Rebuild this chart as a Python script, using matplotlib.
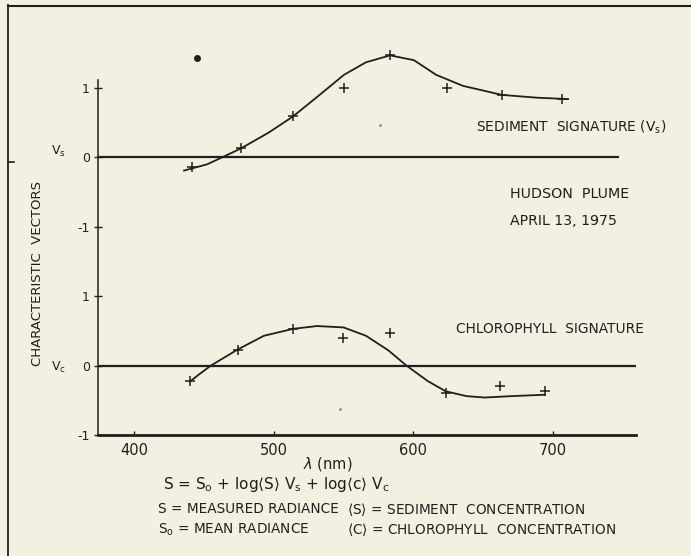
import matplotlib
matplotlib.use("Agg")
import matplotlib.pyplot as plt
import numpy as np

# wavelengths (nm) and values
sed_nm = [441.5, 476.6, 513.8, 550.3, 583.3, 624.0, 663.4, 706.4]
sed_val = [-0.14, 0.13, 0.59, 1.00, 1.47, 1.00, 0.90, 0.84]

sed_curve_nm = [435.8, 452.3, 463.0, 476.6, 496.6, 513.8, 531.0, 550.3,
                566.0, 583.3, 600.4, 616.2, 635.5, 663.4, 688.5, 710.7]
sed_curve_val = [-0.19, -0.10, 0.00, 0.13, 0.36, 0.59, 0.87, 1.19,
                 1.37, 1.47, 1.40, 1.19, 1.03, 0.90, 0.86, 0.84]

chl_nm = [440.0, 474.4, 513.8, 549.6, 583.3, 623.3, 662.0, 694.2]
chl_val = [-0.22, 0.23, 0.53, 0.40, 0.47, -0.40, -0.30, -0.36]

chl_curve_nm = [440, 447, 455, 474, 493, 514, 531, 550, 566,
                582, 595, 610, 623, 638, 651, 670, 694]
chl_curve_val = [-0.23, -0.12, 0.00, 0.23, 0.43, 0.53, 0.57, 0.55, 0.43,
                 0.22, 0.00, -0.22, -0.37, -0.44, -0.46, -0.44, -0.42]

# stray marks on the scan
dot_nm, dot_val = [445], [1.43]
speck_nm, speck_val = [576, 547.5], [3.46, -0.62]

OFFSET = 3  # upper panel sits 3 units above the lower one
ytick_pos = [-1, 0, 1, 2, 3, 4]
ytick_lab = ['-1', '0', '1', '-1', '0', '1']
xtick_pos = [400, 500, 600, 700]

paper = '#f3efe1'
ink = '#1f1f1f'
W, H = 691, 556


def px(x, y):
    return x / W, 1 - y / H


fig = plt.figure(figsize=(W / 100, H / 100), dpi=100, facecolor=paper)
ax = fig.add_axes([98 / W, 1 - 435 / H, 538 / W, 355 / H])
ax.set_facecolor(paper)

ax.plot(sed_curve_nm, np.array(sed_curve_val) + OFFSET, color=ink, lw=1.3,
        clip_on=False)
ax.plot(sed_nm, np.array(sed_val) + OFFSET, '+', color=ink, ms=7, mew=1.1,
        clip_on=False)
ax.plot(chl_curve_nm, chl_curve_val, color=ink, lw=1.3)
ax.plot(chl_nm, chl_val, '+', color=ink, ms=7, mew=1.1)

ax.plot(dot_nm, np.array(dot_val) + OFFSET, 'o', color=ink, ms=4, clip_on=False)
ax.plot(speck_nm, speck_val, 'o', color='#8a8a8a', ms=2, mew=0)

ax.set_xlim(374.2, 759.3)
ax.set_ylim(-1, 4.115)
ax.hlines(OFFSET, 374.2, 747, color=ink, lw=1.6)
ax.hlines(0, 374.2, 759.3, color=ink, lw=1.6)

for s in ['top', 'right']:
    ax.spines[s].set_visible(False)
ax.spines['left'].set_linewidth(1.1)
ax.spines['bottom'].set_linewidth(2.0)
ax.spines['left'].set_color(ink)
ax.spines['bottom'].set_color(ink)

ax.set_yticks(ytick_pos)
ax.set_yticklabels(ytick_lab)
ax.set_xticks(xtick_pos)
ax.tick_params(axis='y', direction='inout', length=6, width=1, pad=3,
               labelsize=9, colors=ink)
ax.tick_params(axis='x', direction='in', length=3, width=1, pad=6,
               labelsize=10.5, colors=ink)

txt = dict(color=ink, va='center')
fig.text(*px(58, 151), r'V$_\mathrm{s}$', ha='center', fontsize=9, **txt)
fig.text(*px(58, 367), r'V$_\mathrm{c}$', ha='center', fontsize=9, **txt)
fig.text(*px(38, 274), 'CHARACTERISTIC  VECTORS', ha='center',
         rotation=90, fontsize=9.5, **txt)

fig.text(*px(476, 127), r'SEDIMENT  SIGNATURE (V$_\mathrm{s}$)', ha='left',
         fontsize=9.9, **txt)
fig.text(*px(510, 194), 'HUDSON  PLUME', ha='left', fontsize=10.3, **txt)
fig.text(*px(510, 221), 'APRIL 13, 1975', ha='left', fontsize=10.2, **txt)
fig.text(*px(456, 329), 'CHLOROPHYLL  SIGNATURE', ha='left', fontsize=9.9,
         **txt)

fig.text(*px(328, 464), r'$\lambda$ (nm)', ha='center', fontsize=10.5, **txt)
fig.text(*px(163, 485),
         r'S = S$_\mathrm{o}$ + log$\langle$S$\rangle$ V$_\mathrm{s}$'
         r' + log$\langle$c$\rangle$ V$_\mathrm{c}$',
         ha='left', fontsize=11, **txt)
fig.text(*px(158, 509), 'S = MEASURED RADIANCE', ha='left', fontsize=9.8,
         **txt)
fig.text(*px(347, 509), r'$\langle$S$\rangle$ = SEDIMENT  CONCENTRATION',
         ha='left', fontsize=9.8, **txt)
fig.text(*px(158, 530), r'S$_\mathrm{o}$ = MEAN RADIANCE', ha='left',
         fontsize=9.8, **txt)
fig.text(*px(347, 530), r'$\langle$C$\rangle$ = CHLOROPHYLL  CONCENTRATION',
         ha='left', fontsize=9.8, **txt)

# scan frame: left and top edges
fig.add_artist(plt.Line2D([8 / W, 8 / W], [0, 1 - 5 / H], color=ink, lw=1.3))
fig.add_artist(plt.Line2D([8 / W, 1], [1 - 6 / H, 1 - 6 / H], color=ink, lw=1.5))
fig.add_artist(plt.Line2D([8 / W, 14 / W], [1 - 162 / H, 1 - 162 / H],
                          color=ink, lw=1.2))

fig.savefig('out.png', dpi=100, facecolor=paper)
